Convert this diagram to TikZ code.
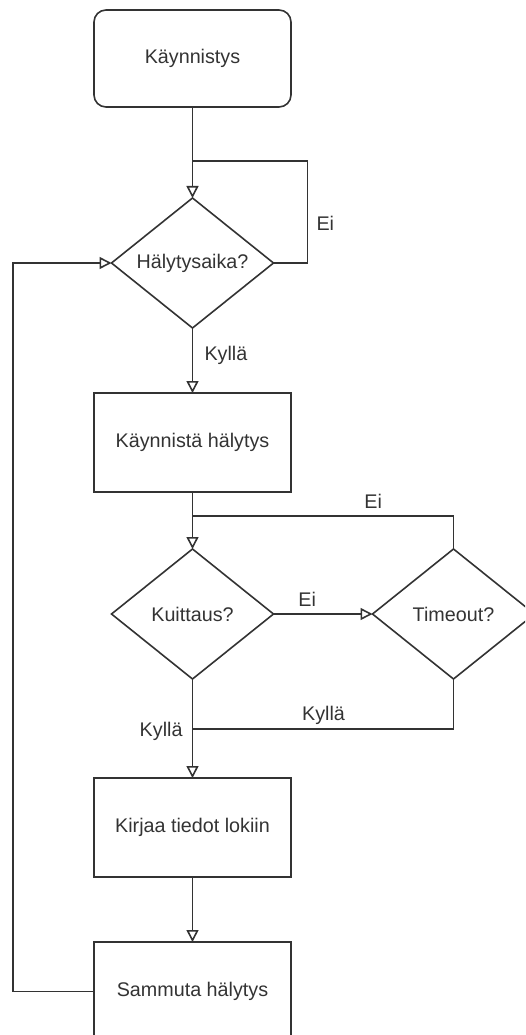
\documentclass[tikz,border=0pt]{standalone}
\usepackage{fontspec}
\setmainfont{Liberation Sans}
\usetikzlibrary{positioning}
\usetikzlibrary{shapes.geometric}
\usetikzlibrary{arrows.meta}

\definecolor{linegray}{HTML}{333333}

\begin{document}
\begin{tikzpicture}[
        x=0.75pt, y=-0.75pt,
        font=\fontsize{14.8}{17}\selectfont,
        every node/.style = {text=linegray, outer sep=0pt},
        start/.style = {draw=linegray, line width=1.2pt, rounded corners=9pt, minimum width=147.75pt, minimum height=72.75pt},
        proc/.style = {draw=linegray, line width=1.2pt, minimum width=147.75pt, minimum height=74.25pt},
        decision/.style = {draw=linegray, line width=1.2pt, diamond, aspect=1.25, minimum width=121.5pt, minimum height=97.5pt, inner sep=1pt},
        lbl/.style = {inner sep=2pt, text depth=0pt},
        line/.style = {draw=linegray, line width=1.2pt},
        flow/.style = {line, -{Triangle[open, length=9pt, width=9pt]}}
    ]

        \clip (0,0) rectangle (525,1035);

        \node[start] (start) at (192.5,58.5) {Käynnistys};
        \node[decision] (halyt) [below=68.25pt of start] {Hälytysaika?};
        \node[proc] (kaynn) [below=48.75pt of halyt] {Käynnistä hälytys};
        \node[decision] (kuitt) [below=42.75pt of kaynn] {Kuittaus?};
        \node[decision] (timeo) [right=74.25pt of kuitt] {Timeout?};
        \node[proc] (kirja) [below=74.25pt of kuitt] {Kirjaa tiedot lokiin};
        \node[proc] (sammu) [below=48.75pt of kirja] {Sammuta hälytys};

        % joints of the lines
        \coordinate[above=27.75pt of halyt] (j1);
        \coordinate[right=25.5pt of halyt] (c1);
        \coordinate[above=24.75pt of kuitt] (j2);
        \coordinate[below=37.5pt of kuitt] (j3);
        \coordinate[left=60.75pt of sammu] (c4);

        \draw[line] (start) -- (j1);
        \draw[flow] (j1) -- (halyt);
        \draw[line] (halyt) -- (c1) -- node[lbl, right=4.75pt, pos=0.39] (ei1) {Ei} (c1 |- j1) -- (j1);
        \draw[flow] (halyt) -- node[lbl, right=7pt, pos=0.385] (kylla1) {Kyllä} (kaynn);
        \draw[line] (kaynn) -- (j2);
        \draw[flow] (j2) -- (kuitt);
        \draw[flow] (kuitt) -- node[lbl, above=4pt, pos=0.34] (ei2) {Ei} (timeo);
        \draw[line] (timeo.north) |- node[lbl, above=4pt, pos=0.654] (ei3) {Ei} (j2);
        \draw[line] (timeo.south) |- node[lbl, above=4.5pt, pos=0.749] (kylla2) {Kyllä} (j3);
        \draw[line] (kuitt) -- node[lbl, left=5.5pt, at end] (kylla3) {Kyllä} (j3);
        \draw[flow] (j3) -- (kirja);
        \draw[flow] (kirja) -- (sammu);
        \draw[flow] (sammu) -- (c4) |- (halyt);

    \end{tikzpicture}
\end{document}
